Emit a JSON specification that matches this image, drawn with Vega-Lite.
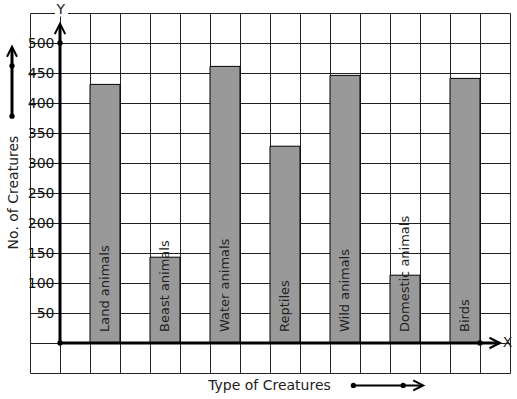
{
  "$schema": "https://vega.github.io/schema/vega-lite/v6.json",
  "width": 480,
  "height": 360,
  "autosize": {"type": "none"},
  "padding": {"left": 30, "top": 13, "right": 7, "bottom": 26},
  "background": "white",
  "config": {"view": {"stroke": "#222", "strokeWidth": 1}, "font": "DejaVu Sans"},
  "resolve": {"axis": {"x": "independent", "y": "independent"}},
  "datasets": {
    "creatures": [
      {"creature": "Land animals", "count": 431, "pos": 1.5},
      {"creature": "Beast animals", "count": 143, "pos": 3.5},
      {"creature": "Water animals", "count": 461, "pos": 5.5},
      {"creature": "Reptiles", "count": 328, "pos": 7.5},
      {"creature": "Wild animals", "count": 446, "pos": 9.5},
      {"creature": "Domestic animals", "count": 113, "pos": 11.5},
      {"creature": "Birds", "count": 441, "pos": 13.5}
    ],
    "dots": [
      {"gx": 0, "gy": 0},
      {"gx": 0, "gy": 500},
      {"gx": 14, "gy": 0},
      {"gx": -1.6, "gy": 378},
      {"gx": -1.6, "gy": 462},
      {"gx": 9.78, "gy": -70.7},
      {"gx": 11.44, "gy": -70.7}
    ]
  },
  "layer": [
    {
      "data": {"name": "creatures"},
      "mark": {"type": "bar", "orient": "vertical", "width": 30, "fill": "#999999", "stroke": "#000", "strokeWidth": 1},
      "encoding": {
        "x": {
          "field": "pos", "type": "quantitative",
          "scale": {"domain": [-1, 15], "nice": false, "zero": false, "padding": 0},
          "axis": {
            "values": [0, 1, 2, 3, 4, 5, 6, 7, 8, 9, 10, 11, 12, 13, 14],
            "grid": true, "gridColor": "#222", "gridWidth": 1,
            "labels": false, "ticks": false, "domain": false,
            "title": "Type of Creatures", "titleFont": "DejaVu Sans", "titleFontSize": 14,
            "titleFontWeight": "normal", "titleColor": "#222",
            "titleX": 239, "titleY": 16, "titleBaseline": "alphabetic", "titleAlign": "center"
          }
        },
        "y": {
          "field": "count", "type": "quantitative",
          "scale": {"domain": [-50, 550], "nice": false, "zero": false, "padding": 0},
          "axis": {
            "values": [0, 50, 100, 150, 200, 250, 300, 350, 400, 450, 500],
            "grid": true, "gridColor": "#222", "gridWidth": 1,
            "offset": -30, "domain": false,
            "labelExpr": "datum.value == 0 ? '' : datum.label",
            "tickSize": 5, "tickColor": "#222", "labelPadding": 1,
            "labelFont": "DejaVu Sans", "labelFontSize": 14, "labelColor": "#111",
            "labelOverlap": false, "labelBound": false, "labelFlush": false,
            "title": "No. of Creatures", "titleFont": "DejaVu Sans", "titleFontSize": 14,
            "titleFontWeight": "normal", "titleColor": "#222",
            "titleX": -47, "titleY": 179, "titleAngle": 270, "titleAlign": "center", "titleBaseline": "middle"
          }
        },
        "y2": {"datum": 0}
      }
    },
    {
      "data": {"name": "creatures"},
      "mark": {"type": "text", "angle": 270, "align": "left", "baseline": "middle", "dx": 11, "fontSize": 13, "font": "DejaVu Sans", "fill": "#222"},
      "encoding": {
        "x": {"field": "pos", "type": "quantitative", "axis": null},
        "y": {"datum": 0, "axis": null},
        "text": {"field": "creature"}
      }
    },
    {
      "data": {"values": [{}]},
      "mark": {"type": "rule", "stroke": "#000", "strokeWidth": 3},
      "encoding": {"x": {"datum": 0, "axis": null}, "y": {"datum": 0, "axis": null}, "y2": {"datum": 530}}
    },
    {
      "data": {"values": [{}]},
      "mark": {"type": "rule", "stroke": "#000", "strokeWidth": 3},
      "encoding": {"y": {"datum": 0, "axis": null}, "x": {"datum": 0, "axis": null}, "x2": {"datum": 14.65}}
    },
    {
      "data": {"values": [{}]},
      "mark": {"type": "rule", "stroke": "#000", "strokeWidth": 3},
      "encoding": {"x": {"datum": -1.6, "axis": null}, "y": {"datum": 378, "axis": null}, "y2": {"datum": 492}}
    },
    {
      "data": {"values": [{}]},
      "mark": {"type": "rule", "stroke": "#000", "strokeWidth": 2},
      "encoding": {"y": {"datum": -70.7, "axis": null}, "x": {"datum": 9.78, "axis": null}, "x2": {"datum": 12.05}}
    },
    {
      "data": {"values": [{}]},
      "mark": {"type": "point", "shape": "M-1,1L0,-1L1,1", "size": 110, "filled": false, "stroke": "#000", "strokeWidth": 2, "opacity": 1},
      "encoding": {"x": {"datum": 0, "axis": null}, "y": {"datum": 523.5, "axis": null}}
    },
    {
      "data": {"values": [{}]},
      "mark": {"type": "point", "shape": "M-1,1L0,-1L1,1", "size": 100, "filled": false, "stroke": "#000", "strokeWidth": 2, "opacity": 1},
      "encoding": {"x": {"datum": -1.6, "axis": null}, "y": {"datum": 485.5, "axis": null}}
    },
    {
      "data": {"values": [{}]},
      "mark": {"type": "point", "shape": "M-1,-1L1,0L-1,1", "size": 110, "filled": false, "stroke": "#000", "strokeWidth": 2, "opacity": 1},
      "encoding": {"x": {"datum": 14.49, "axis": null}, "y": {"datum": 0, "axis": null}}
    },
    {
      "data": {"values": [{}]},
      "mark": {"type": "point", "shape": "M-1,-1L1,0L-1,1", "size": 100, "filled": false, "stroke": "#000", "strokeWidth": 2, "opacity": 1},
      "encoding": {"x": {"datum": 11.94, "axis": null}, "y": {"datum": -70.7, "axis": null}}
    },
    {
      "data": {"name": "dots"},
      "mark": {"type": "circle", "size": 28, "fill": "#000", "opacity": 1},
      "encoding": {"x": {"field": "gx", "type": "quantitative", "axis": null}, "y": {"field": "gy", "type": "quantitative", "axis": null}}
    },
    {
      "data": {"values": [{}]},
      "mark": {"type": "square", "size": 169, "fill": "white", "opacity": 1, "stroke": null},
      "encoding": {"x": {"datum": 0.05, "axis": null}, "y": {"datum": 555, "axis": null}}
    },
    {
      "data": {"values": [{"t": "Y"}]},
      "mark": {"type": "text", "align": "center", "baseline": "middle", "fontSize": 14, "font": "DejaVu Sans", "fill": "#222"},
      "encoding": {"x": {"datum": 0.03, "axis": null}, "y": {"datum": 555, "axis": null}, "text": {"field": "t"}}
    },
    {
      "data": {"values": [{"t": "X"}]},
      "mark": {"type": "text", "align": "center", "baseline": "middle", "fontSize": 14, "font": "DejaVu Sans", "fill": "#222"},
      "encoding": {"x": {"datum": 14.92, "axis": null}, "y": {"datum": 0, "axis": null}, "text": {"field": "t"}}
    }
  ]
}
